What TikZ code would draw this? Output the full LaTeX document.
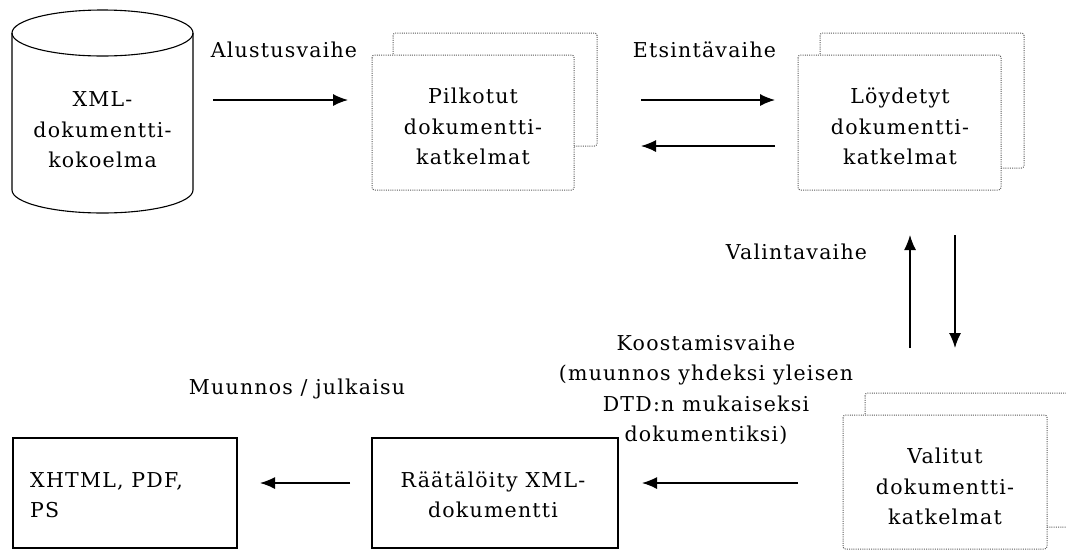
\documentclass[tikz,border=0pt]{standalone}
\usepackage{fontspec}
\setmainfont[LetterSpace=6]{DejaVu Serif}
\usetikzlibrary{arrows.meta}
\tikzset{
  txt/.style={inner sep=0pt, font=\fontsize{20.5}{30.5}\selectfont, align=center},
  lbl/.style={inner sep=0pt, font=\fontsize{20.5}{30.5}\selectfont, anchor=base},
  dotbox/.style={draw=black!65, line width=1pt, dash pattern=on 1pt off 1.2pt, rounded corners=2.5pt, fill=white},
  solidbox/.style={draw=black, line width=1.1pt, fill=white},
  arr/.style={line width=1.3pt, -{Latex[length=15pt,width=12pt]}},
}
\begin{document}
\begin{tikzpicture}[x=1pt,y=-1pt]
\useasboundingbox (0,0) rectangle (1066,550);
\clip (0,0) rectangle (1066,550);

% cylinder
\draw[line width=1.1pt] (102.5,33) ellipse [x radius=90.5, y radius=23];
\draw[line width=1.1pt] (12,33) -- (12,190) arc[start angle=180, end angle=0, x radius=90.5, y radius=23] -- (193,33);
\node[txt] (xml) at (102.5,130) {XML-\\dokumentti-\\kokoelma};

% Pilkotut
\draw[dotbox] (393,33) rectangle (597,146);
\draw[dotbox] (372,55) rectangle (574,190);
\node[txt] (pilk) at (473,126.5) {Pilkotut\\dokumentti-\\katkelmat};

% Loydetyt
\draw[dotbox] (820,33) rectangle (1024,168);
\draw[dotbox] (798,55) rectangle (1001,190);
\node[txt] (loyd) at (900,126.5) {Löydetyt\\dokumentti-\\katkelmat};

% Valitut
\draw[dotbox] (865,393) rectangle (1080,527);
\draw[dotbox] (843,415) rectangle (1047,549);
\node[txt] (valit) at (945,486.5) {Valitut\\dokumentti-\\katkelmat};

% Raatalöity
\draw[solidbox] (372,438) rectangle (618,548);
\node[txt] (raat) at (493,495) {Räätälöity XML-\\dokumentti};

% XHTML
\draw[solidbox] (13,438) rectangle (237,548);
\node[txt, align=left, anchor=west] (xhtml) at (30,495) {XHTML, PDF,\\PS};

% labels
\node[lbl] (l1) at (284,57) {Alustusvaihe};
\node[lbl] (l2) at (704.5,57) {Etsintävaihe};
\node[lbl] (l3) at (796.5,259) {Valintavaihe};
\node[txt] (l4) at (706,390) {Koostamisvaihe\\(muunnos yhdeksi yleisen\\DTD:n mukaiseksi\\dokumentiksi)};
\node[lbl] (l5) at (297,394) {Muunnos / julkaisu};

% arrow end points
\coordinate (a1s) at (213,100); \coordinate (a1e) at (348,100);
\coordinate (a2s) at (641,100); \coordinate (a2e) at (775,100);
\coordinate (a3s) at (775,146); \coordinate (a3e) at (641,146);
\coordinate (a4s) at (910,348); \coordinate (a4e) at (910,235);
\coordinate (a5s) at (955,235); \coordinate (a5e) at (955,348);
\coordinate (a6s) at (798,483); \coordinate (a6e) at (642,483);
\coordinate (a7s) at (350,483); \coordinate (a7e) at (260,483);

\draw[arr] (a1s) -- (a1e);
\draw[arr] (a2s) -- (a2e);
\draw[arr] (a3s) -- (a3e);
\draw[arr] (a4s) -- (a4e);
\draw[arr] (a5s) -- (a5e);
\draw[arr] (a6s) -- (a6e);
\draw[arr] (a7s) -- (a7e);
\end{tikzpicture}
\end{document}
